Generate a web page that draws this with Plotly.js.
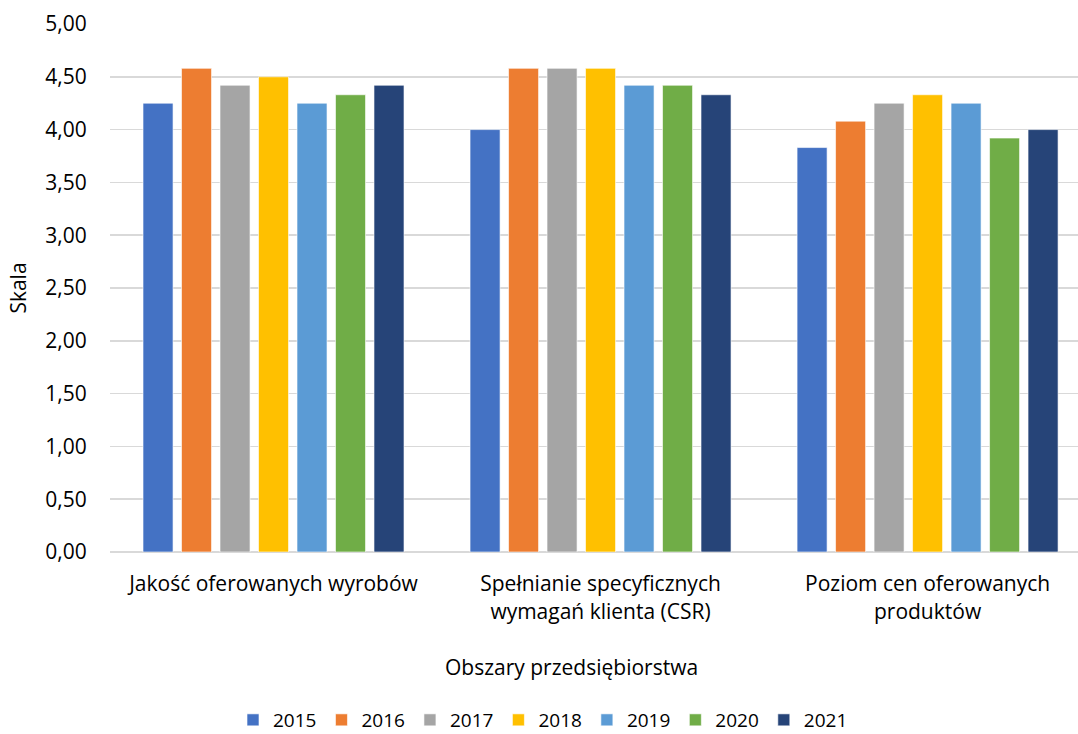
<!DOCTYPE html>
<html>
<head>
<meta charset="utf-8">
<script src="https://cdn.plot.ly/plotly-3.0.1.min.js"></script>
<style>html,body{margin:0;padding:0;background:#fff;}#chart{width:1078px;height:734px;}</style>
</head>
<body>
<div id="chart"></div>
<script>
const categories = ["Jakość oferowanych wyrobów", "Spełnianie specyficznych<br>wymagań klienta (CSR)", "Poziom cen oferowanych<br>produktów"];
const years = ["2015", "2016", "2017", "2018", "2019", "2020", "2021"];
const v2015 = [4.25, 4.00, 3.83];
const v2016 = [4.58, 4.58, 4.08];
const v2017 = [4.42, 4.58, 4.25];
const v2018 = [4.50, 4.58, 4.33];
const v2019 = [4.25, 4.42, 4.25];
const v2020 = [4.33, 4.42, 3.92];
const v2021 = [4.42, 4.33, 4.00];
const series = [v2015, v2016, v2017, v2018, v2019, v2020, v2021];
const colors = ["#4472C4", "#ED7D31", "#A5A5A5", "#FFC000", "#5B9BD5", "#70AD47", "#264478"];
const yTicks = [0, 0.5, 1, 1.5, 2, 2.5, 3, 3.5, 4, 4.5, 5];
const xTitle = "Obszary przedsiębiorstwa";
const yTitle = "Skala";

const font = "Open Sans, Noto Sans, sans-serif";
const traces = series.map((vals, i) => ({
  type: "bar",
  name: years[i],
  x: categories,
  y: vals,
  marker: {color: colors[i], line: {color: "rgba(255,255,255,0.6)", width: 1}},
  hoverinfo: "y+name"
}));

const layout = {
  width: 1078, height: 734,
  margin: {l: 110, r: 0, t: 24, b: 182, autoexpand: false},
  paper_bgcolor: "#fff", plot_bgcolor: "#fff",
  separators: ", ",
  barmode: "group",
  bargap: 0.176,
  bargroupgap: 0.22,
  font: {family: font, size: 21, color: "#000"},
  xaxis: {
    range: [-0.5, 2.46],
    showgrid: false, zeroline: false,
    showline: false, tickangle: 0, automargin: false,
    tickfont: {size: 21, color: "#000"},
    ticks: "outside", ticklen: 13, tickcolor: "rgba(0,0,0,0)"
  },
  yaxis: {
    range: [0, 5], tickvals: yTicks, tickformat: ".2f",
    showgrid: true, gridcolor: "#D9D9D9", gridwidth: 1.5,
    zeroline: true, zerolinecolor: "#D9D9D9", zerolinewidth: 1.5,
    showline: false, automargin: false,
    tickfont: {size: 21, color: "#000"},
    ticks: "outside", ticklen: 18, tickcolor: "rgba(0,0,0,0)",
    title: {text: yTitle, font: {size: 21, color: "#000"}, standoff: 12}
  },
  annotations: [{
    text: xTitle, xref: "paper", yref: "paper",
    x: (571 - 110) / 968, y: (552 - 667) / 528,
    xanchor: "center", yanchor: "middle", showarrow: false,
    font: {size: 21, color: "#000"}
  }],
  legend: {
    orientation: "h", xref: "paper", x: (543 - 110) / 968, xanchor: "center",
    yref: "paper", y: (552 - 720) / 528, yanchor: "middle",
    font: {size: 19, color: "#000"}, itemwidth: 30, tracegroupgap: 0,
    borderwidth: 0
  },
  showlegend: true
};

Plotly.newPlot("chart", traces, layout, {staticPlot: true, displayModeBar: false});
</script>
</body>
</html>
